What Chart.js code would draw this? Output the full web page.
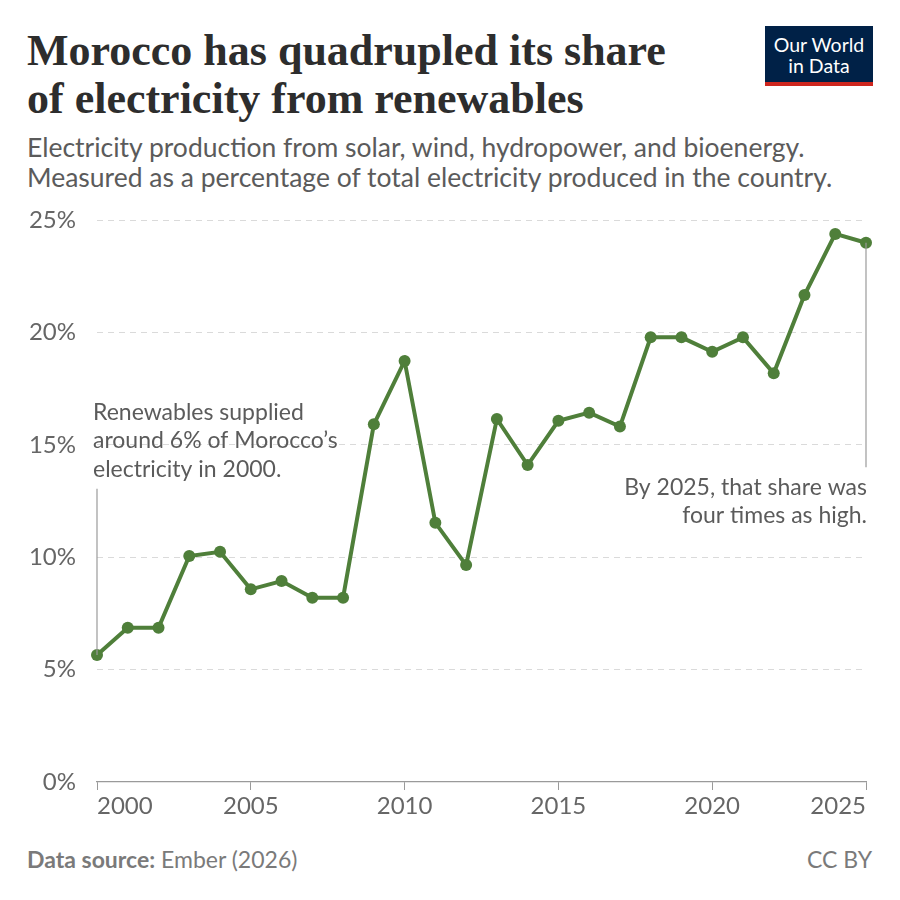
<!DOCTYPE html>
<html>
<head>
<meta charset="utf-8">
<script src="https://cdn.jsdelivr.net/npm/chart.js@4"></script>
<style>
  body { margin: 0; background: #fff; }
  #wrap { position: relative; width: 900px; height: 900px; overflow: hidden; font-family: Lato, sans-serif; }
  #title { position: absolute; left: 27px; top: 27px; font-family: "Liberation Serif", serif; font-weight: bold;
           font-size: 44px; line-height: 48px; color: #2d2d2d; white-space: nowrap; }
  #subtitle { position: absolute; left: 27px; top: 132px; font-size: 26.5px; line-height: 30px; color: #5b5b5b; white-space: nowrap; }
  #logo { position: absolute; left: 765px; top: 26px; width: 108px; height: 48px; padding-top: 8px;
          background: #002147; border-bottom: 4px solid #ce261e; color: #fff;
          font-size: 19.5px; line-height: 21px; text-align: center; }
  #source { position: absolute; left: 27px; top: 845px; font-size: 23px; color: #7a7a7a; }
  #license { position: absolute; right: 28px; top: 845px; font-size: 23px; color: #7a7a7a; }
  #chartBox { position: absolute; left: 0; top: 200px; width: 900px; height: 620px; }
</style>
</head>
<body>
<div id="wrap">
  <div id="title">Morocco has quadrupled its share<br>of electricity from renewables</div>
  <div id="subtitle">Electricity production from solar, wind, hydropower, and bioenergy.<br>Measured as a percentage of total electricity produced in the country.</div>
  <div id="logo">Our World<br>in Data</div>
  <div id="chartBox"><canvas id="chart"></canvas></div>
  <div id="source"><b>Data source:</b> Ember (2026)</div>
  <div id="license">CC BY</div>
</div>
<script>
/* =========================
   DATA
========================= */
const years = [2000, 2001, 2002, 2003, 2004, 2005, 2006, 2007, 2008, 2009, 2010, 2011, 2012,
               2013, 2014, 2015, 2016, 2017, 2018, 2019, 2020, 2021, 2022, 2023, 2024, 2025];
const renewShare = [5.65, 6.86, 6.86, 10.05, 10.24, 8.57, 8.94, 8.2, 8.2, 15.91, 18.73, 11.53, 9.65,
                    16.15, 14.1, 16.07, 16.43, 15.81, 19.78, 19.78, 19.14, 19.78, 18.18, 21.66, 24.38, 23.99];
const yTicks = [0, 5, 10, 15, 20, 25];
const xTicks = [2000, 2005, 2010, 2015, 2020, 2025];

const startNote = ["Renewables supplied", "around 6% of Morocco’s", "electricity in 2000."];
const endNote = ["By 2025, that share was", "four times as high."];

const GREEN = "#4f7f3a";
const TEXT = "#5b5b5b";

/* =========================
   ANNOTATIONS
========================= */
const notesPlugin = {
  id: "notes",
  afterDatasetsDraw(chart) {
    const ctx = chart.ctx;
    const x = chart.scales.x, y = chart.scales.y;
    const first = 0;
    const last = years.length - 1;

    ctx.save();
    ctx.strokeStyle = "#9a9a9a";
    ctx.lineWidth = 1.2;

    // left connector: from under the note down to the 2000 point
    const lx = x.getPixelForValue(years[first]);
    const lTop = y.getPixelForValue(13.05);
    ctx.beginPath();
    ctx.moveTo(lx, lTop);
    ctx.lineTo(lx, y.getPixelForValue(renewShare[first]));
    ctx.stroke();

    // right connector: from the 2025 point down to the note
    const rx = x.getPixelForValue(years[last]);
    const rBottom = y.getPixelForValue(14.0);
    ctx.beginPath();
    ctx.moveTo(rx, y.getPixelForValue(renewShare[last]));
    ctx.lineTo(rx, rBottom);
    ctx.stroke();

    ctx.fillStyle = TEXT;
    ctx.font = "23px Lato";
    ctx.textBaseline = "alphabetic";
    ctx.textAlign = "left";
    const ly = lTop - 69;
    startNote.forEach((s, i) => ctx.fillText(s, lx - 4, ly + i * 28.5));

    ctx.textAlign = "right";
    const ry = rBottom + 28;
    endNote.forEach((s, i) => ctx.fillText(s, rx + 1, ry + i * 28));
    ctx.restore();
  }
};

/* =========================
   CHART
========================= */
new Chart(document.getElementById("chart"), {
  type: "line",
  data: {
    datasets: [{
      data: years.map((yr, i) => ({ x: yr, y: renewShare[i] })),
      borderColor: GREEN,
      backgroundColor: GREEN,
      borderWidth: 4,
      pointRadius: 6,
      pointHoverRadius: 6,
      pointBorderWidth: 0,
      tension: 0,
      clip: false
    }]
  },
  options: {
    responsive: true,
    maintainAspectRatio: false,
    animation: false,
    layout: { padding: { top: 20, right: 34, left: 0, bottom: 0 } },
    plugins: { legend: { display: false }, tooltip: { enabled: false } },
    scales: {
      x: {
        type: "linear",
        min: 2000,
        max: 2025,
        afterFit: (s) => { s.height = 38; s.paddingLeft = 0; s.paddingRight = 0; },
        afterBuildTicks: (s) => { s.ticks = xTicks.map(v => ({ value: v })); },
        grid: { drawOnChartArea: false, drawTicks: true, tickLength: 8, color: "#9a9a9a", lineWidth: 1 },
        border: { display: true, color: "#9a9a9a", width: 1.2 },
        ticks: {
          align: "inner",
          padding: 2,
          color: "#666",
          font: { family: "Lato", size: 24 },
          maxRotation: 0,
          callback: (v) => String(v)
        }
      },
      y: {
        min: 0,
        max: 25,
        afterFit: (s) => { s.width = 97; s.paddingTop = 0; s.paddingBottom = 0; },
        afterBuildTicks: (s) => { s.ticks = yTicks.map(v => ({ value: v })); },
        grid: {
          drawTicks: false,
          color: (c) => c.tick && c.tick.value === 0 ? "rgba(0,0,0,0)" : "#dadada",
          lineWidth: 1
        },
        border: { display: false, dash: [6, 5] },
        ticks: {
          padding: 21,
          color: "#666",
          font: { family: "Lato", size: 24 },
          callback: (v) => v + "%"
        }
      }
    }
  },
  plugins: [notesPlugin]
});
</script>
</body>
</html>
